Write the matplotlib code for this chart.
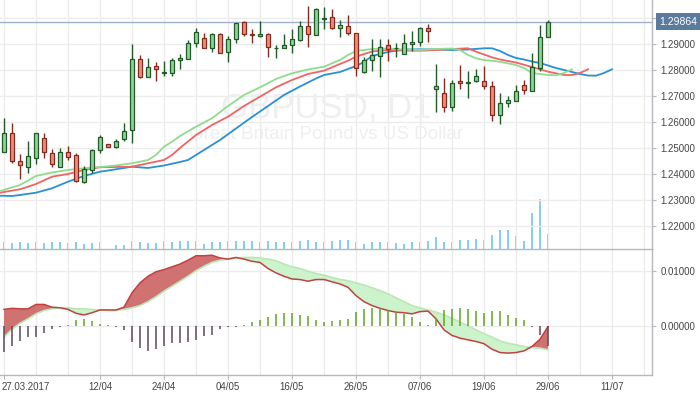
import matplotlib
matplotlib.use("Agg")
import matplotlib.pyplot as plt
import matplotlib.transforms as mtransforms
import numpy as np

plt.rcParams['font.family'] = ['Liberation Sans', 'DejaVu Sans']

# ---------------- data ----------------
opens = [1.2486, 1.2557, 1.2449, 1.2428, 1.2460, 1.2538, 1.2480, 1.2426, 1.2483, 1.2472,
         1.2370, 1.2414, 1.2491, 1.2514, 1.2505, 1.2533, 1.2569, 1.2841, 1.2774, 1.2815,
         1.2787, 1.2790, 1.2837, 1.2843, 1.2903, 1.2922, 1.2883, 1.2937, 1.2868, 1.2919,
         1.2983, 1.2938, 1.2931, 1.2937, 1.2883, 1.2883, 1.2896, 1.2914, 1.2969, 1.2933,
         1.2995, 1.3003, 1.2960, 1.2969, 1.2942, 1.2791, 1.2837, 1.2855, 1.2895, 1.2884,
         1.2860, 1.2899, 1.2907, 1.2960, 1.2726, 1.2710, 1.2659, 1.2758, 1.2749, 1.2757,
         1.2758, 1.2740, 1.2626, 1.2672, 1.2680, 1.2741, 1.2718, 1.2809, 1.2926]
highs = [1.2617, 1.2597, 1.2477, 1.2527, 1.2558, 1.2557, 1.2496, 1.2500, 1.2508, 1.2480,
         1.2431, 1.2496, 1.2549, 1.2515, 1.2533, 1.2595, 1.2900, 1.2858, 1.2846, 1.2831,
         1.2835, 1.2846, 1.2862, 1.2915, 1.2963, 1.2941, 1.2941, 1.2941, 1.2931, 1.2982,
         1.2988, 1.2957, 1.2988, 1.2941, 1.2896, 1.2937, 1.2957, 1.2988, 1.3046, 1.3037,
         1.3043, 1.3033, 1.2992, 1.3012, 1.2943, 1.2849, 1.2918, 1.2919, 1.2918, 1.2905,
         1.2938, 1.2950, 1.2964, 1.2977, 1.2823, 1.2768, 1.2762, 1.2818, 1.2796, 1.2804,
         1.2814, 1.2758, 1.2710, 1.2699, 1.2742, 1.2762, 1.2864, 1.2972, 1.2992]
lows = [1.2484, 1.2443, 1.2380, 1.2405, 1.2437, 1.2462, 1.2426, 1.2425, 1.2455, 1.2371,
        1.2367, 1.2405, 1.2482, 1.2502, 1.2501, 1.2528, 1.2518, 1.2770, 1.2773, 1.2759,
        1.2777, 1.2778, 1.2805, 1.2841, 1.2890, 1.2883, 1.2868, 1.2864, 1.2832, 1.2903,
        1.2932, 1.2905, 1.2928, 1.2851, 1.2847, 1.2883, 1.2867, 1.2912, 1.2890, 1.2933,
        1.2958, 1.2958, 1.2928, 1.2935, 1.2777, 1.2790, 1.2795, 1.2772, 1.2833, 1.2849,
        1.2860, 1.2874, 1.2893, 1.2909, 1.2640, 1.2640, 1.2643, 1.2726, 1.2693, 1.2753,
        1.2726, 1.2605, 1.2591, 1.2657, 1.2680, 1.2709, 1.2718, 1.2796, 1.2926]
closes = [1.2557, 1.2451, 1.2436, 1.2468, 1.2556, 1.2483, 1.2440, 1.2483, 1.2467, 1.2372,
          1.2418, 1.2491, 1.2543, 1.2503, 1.2526, 1.2564, 1.2841, 1.2774, 1.2810, 1.2805,
          1.2792, 1.2837, 1.2846, 1.2903, 1.2945, 1.2883, 1.2937, 1.2864, 1.2918, 1.2980,
          1.2937, 1.2933, 1.2938, 1.2887, 1.2884, 1.2895, 1.2918, 1.2968, 1.2940, 1.3035,
          1.2999, 1.2960, 1.2973, 1.2941, 1.2807, 1.2837, 1.2857, 1.2887, 1.2880, 1.2886,
          1.2903, 1.2908, 1.2960, 1.2949, 1.2740, 1.2659, 1.2749, 1.2751, 1.2753, 1.2776,
          1.2737, 1.2627, 1.2672, 1.2685, 1.2719, 1.2722, 1.2812, 1.2927, 1.29864]
volumes = [146, 126, 146, 126, 146, 126, 146, 146, 126, 146,
           106, 126, 146, 0, 86, 86, 166, 146, 126, 126,
           166, 146, 166, 166, 166, 106, 146, 146, 166, 166,
           166, 166, 146, 166, 146, 146, 146, 166, 186, 146,
           146, 166, 174, 174, 146, 106, 134, 146, 146, 120,
           106, 134, 134, 160, 246, 146, 146, 174, 174, 200,
           174, 286, 386, 374, 254, 154, 714, 1000, 306]

# Alligator lines (bar index, price)
jaw_idx = [-0.5, 1, 2, 4, 6, 8, 10, 12, 14, 16, 18, 20, 22, 23, 24, 27, 31, 33, 35, 37, 39, 40,
           42, 43, 44, 45, 46, 47, 48, 50, 52, 54, 56, 58, 60, 61, 62, 63, 64, 65, 66, 67,
           68, 69, 70, 72, 73, 74, 75, 76]
jaw_val = [1.23165, 1.23154, 1.23192, 1.23281, 1.23450, 1.23704, 1.23923, 1.24088, 1.24181,
           1.24281, 1.24231, 1.24327, 1.24462, 1.24538, 1.24731, 1.25308, 1.26192, 1.26615,
           1.27038, 1.27365, 1.27673, 1.27808, 1.27923, 1.28038, 1.28154, 1.28308, 1.28538,
           1.28615, 1.28692, 1.28788, 1.28796, 1.28788, 1.28769, 1.28788, 1.28835, 1.28835,
           1.28731, 1.28577, 1.28462, 1.28404, 1.28327, 1.28269, 1.28173, 1.28077, 1.28000,
           1.27846, 1.27788, 1.27781, 1.27885, 1.28027]
teeth_idx = [-0.5, 2, 4, 6, 8, 10, 12, 14, 16, 18, 20, 21, 22, 24, 26, 28, 30, 32, 34, 36, 38,
             40, 42, 43, 44, 46, 48, 50, 52, 54, 56, 58, 59, 60, 61, 62, 63, 64, 66, 68, 70,
             71, 72, 73]
teeth_val = [1.23281, 1.23412, 1.23615, 1.23896, 1.24000, 1.24154, 1.24258, 1.24269, 1.24281,
             1.24412, 1.24538, 1.24731, 1.25000, 1.25500, 1.25885, 1.26204, 1.26615, 1.26973,
             1.27335, 1.27615, 1.27846, 1.27973, 1.28231, 1.28358, 1.28512, 1.28712, 1.28769,
             1.28750, 1.28742, 1.28769, 1.28808, 1.28835, 1.28704, 1.28596, 1.28488, 1.28404,
             1.28346, 1.28288, 1.28115, 1.27935, 1.27808, 1.27808, 1.27885, 1.28027]
lips_idx = [-0.5, 2, 4, 6, 8, 10, 12, 14, 16, 18, 19, 20, 21, 22, 24, 26, 28, 30, 32, 34, 36,
            38, 40, 42, 43, 44, 46, 48, 50, 52, 54, 56, 57, 58, 59, 60, 62, 64, 65, 66, 68,
            69, 70, 71]
lips_val = [1.23346, 1.23577, 1.23923, 1.24058, 1.24154, 1.24219, 1.24269, 1.24327, 1.24412,
            1.24538, 1.24731, 1.25050, 1.25242, 1.25462, 1.25819, 1.26142, 1.26615, 1.27038,
            1.27335, 1.27654, 1.27873, 1.28019, 1.28127, 1.28385, 1.28577, 1.28731, 1.28808,
            1.28827, 1.28788, 1.28769, 1.28808, 1.28827, 1.28769, 1.28577, 1.28450, 1.28385,
            1.28319, 1.28192, 1.28077, 1.27885, 1.27808, 1.27796, 1.27885, 1.28027]

# MACD panel
macd_line = [0.0030, 0.0032, 0.0031, 0.0031, 0.0039, 0.0039, 0.0034, 0.0033, 0.0030, 0.0023,
             0.0020, 0.0024, 0.0029, 0.0029, 0.0029, 0.0034, 0.0060, 0.0078, 0.0090, 0.0098,
             0.0102, 0.0107, 0.0112, 0.0119, 0.0127, 0.0127, 0.0128, 0.0123, 0.0121, 0.0124,
             0.0121, 0.0117, 0.0115, 0.0104, 0.0096, 0.0090, 0.0085, 0.0084, 0.0081, 0.0084,
             0.0084, 0.0080, 0.0076, 0.0070, 0.0055, 0.0044, 0.0037, 0.0032, 0.0028, 0.0025,
             0.0024, 0.0022, 0.0026, 0.0027, 0.0013, -0.0007, -0.0017, -0.0022, -0.0025, -0.0028,
             -0.0032, -0.0042, -0.0048, -0.0049, -0.0048, -0.0045, -0.0037, -0.0024, -0.0001]
signal_line = [-0.0020, -0.0006, 0.0005, 0.0013, 0.0022, 0.0028, 0.0031, 0.0033, 0.0033, 0.0031,
               0.0031, 0.0030, 0.0029, 0.0028, 0.0028, 0.0030, 0.0033, 0.0037, 0.0044, 0.0053,
               0.0063, 0.0072, 0.0081, 0.0090, 0.0100, 0.0108, 0.0115, 0.0119, 0.0121, 0.0123,
               0.0124, 0.0124, 0.0123, 0.0121, 0.0118, 0.0112, 0.0107, 0.0104, 0.0099, 0.0095,
               0.0092, 0.0088, 0.0084, 0.0082, 0.0078, 0.0074, 0.0069, 0.0064, 0.0058, 0.0051,
               0.0044, 0.0037, 0.0033, 0.0029, 0.0025, 0.0020, 0.0014, 0.0007, 0.0000, -0.0007,
               -0.0014, -0.0020, -0.0027, -0.0031, -0.0034, -0.0037, -0.0039, -0.0040, -0.0043]
histogram = [-0.0047, -0.0037, -0.0027, -0.0019, -0.0019, -0.0012, -0.0005, -0.0002, 0.0002, 0.0011,
             0.0013, 0.0009, 0.0004, 0.0001, -0.0002, -0.0007, -0.0029, -0.0039, -0.0045, -0.0042,
             -0.0037, -0.0031, -0.0031, -0.0029, -0.0025, -0.0018, -0.0016, -0.0006, -0.0002, -0.0002,
             0.0002, 0.0007, 0.0010, 0.0016, 0.0021, 0.0024, 0.0024, 0.0020, 0.0018, 0.0011,
             0.0008, 0.0009, 0.0010, 0.0013, 0.0025, 0.0031, 0.0033, 0.0032, 0.0029, 0.0025,
             0.0021, 0.0016, 0.0008, 0.0002, 0.0014, 0.0029, 0.0031, 0.0033, 0.0030, 0.0027,
             0.0024, 0.0028, 0.0027, 0.0020, 0.0014, 0.0010, -0.0001, -0.0017, -0.0036]

date_ticks = [0, 12, 20, 28, 36, 44, 52, 60, 68, 76]
date_labels = ['27.03.2017', '12/04', '24/04', '04/05', '16/05', '26/05',
               '07/06', '19/06', '29/06', '11/07']
price_ticks = [1.22, 1.23, 1.24, 1.25, 1.26, 1.27, 1.28, 1.29, 1.30]
macd_ticks = [0.0, 0.01]
last_price = 1.29864
symbol = 'GBPUSD, D1'
description = 'Great Britain Pound vs US Dollar'

# ---------------- style ----------------
W, H = 700, 394
fig = plt.figure(figsize=(W / 100, H / 100), dpi=100)
fig.patch.set_facecolor('white')

right = 652 / W
main_rect = [0, 1 - 249 / H, right, 249 / H]
# volume axis drawn underneath the price axis
axv = fig.add_axes(main_rect, zorder=0)
ax = fig.add_axes(main_rect, zorder=1)
ax.patch.set_visible(False)
axm = fig.add_axes([0, 1 - 375 / H, right, 126 / H])

grid_c = '#ececec'
spine_c = '#b4b8bc'
lab_c = '#444444'
x = np.arange(len(closes))
xlim = (-0.5, 81)
vgrid = np.arange(0, 81, 4)

# volume
axv.set_ylim(0, max(volumes) * 249 / 50)
axv.set_xlim(*xlim)
axv.axis('off')
axv.vlines(x, 0, volumes, color='#78c9f2', lw=1.3, zorder=1)

for a in (ax, axm):
    a.set_xlim(*xlim)
    for s in ('left', 'top'):
        a.spines[s].set_visible(False)
    for s in ('right', 'bottom'):
        a.spines[s].set_color(spine_c)
        a.spines[s].set_linewidth(1.0)
    for v in vgrid:
        a.axvline(v, color=grid_c, lw=1.0, zorder=0)
    a.yaxis.tick_right()
    a.tick_params(axis='y', colors=spine_c, length=3, width=0.8, labelsize=7,
                  labelcolor=lab_c, pad=3)

# main panel
ax.set_ylim(1.21115, 1.30692)
ax.set_yticks(price_ticks)
ax.set_yticklabels([f'{t:.5f}' if t < 1.295 else '' for t in price_ticks])
for t in price_ticks:
    ax.axhline(t, color=grid_c, lw=1.0, zorder=0)
ax.set_xticks([])

# watermark
ax.text(0.5, (249 - 118) / 249, symbol, transform=ax.transAxes, ha='center',
        va='baseline', fontsize=25, color='#efefef', zorder=0.5)
ax.text(0.5, (249 - 139) / 249, description, transform=ax.transAxes, ha='center',
        va='baseline', fontsize=13.5, color='#efefef', zorder=0.5)

# alligator
ax.plot(jaw_idx, jaw_val, color='#2a8fd6', lw=1.3, zorder=2)
ax.plot(teeth_idx, teeth_val, color='#f06464', lw=1.3, zorder=2)
ax.plot(lips_idx, lips_val, color='#8fdc8f', lw=1.3, zorder=2)

# candles
o = np.array(opens); c = np.array(closes); h = np.array(highs); l = np.array(lows)
up = c >= o
bull_fill, bull_edge = '#8fd29a', '#1f5a27'
bear_fill, bear_edge = '#f28c7c', '#852a1c'
ax.vlines(x[up], l[up], h[up], color=bull_edge, lw=1.0, zorder=3)
ax.vlines(x[~up], l[~up], h[~up], color=bear_edge, lw=1.0, zorder=3)
ax.bar(x[up], (c - o)[up], bottom=o[up], width=0.62, color=bull_fill,
       edgecolor=bull_edge, linewidth=0.9, zorder=4)
ax.bar(x[~up], (o - c)[~up], bottom=c[~up], width=0.62, color=bear_fill,
       edgecolor=bear_edge, linewidth=0.9, zorder=4)

# last price line + tag
ax.axhline(last_price, color='#9fb2cc', lw=1.0, zorder=2.5)
trans = mtransforms.blended_transform_factory(ax.transAxes, ax.transData)
ax.annotate(f'{last_price:.5f}', xy=(1.0, last_price), xycoords=trans,
            xytext=(5, 0), textcoords='offset points', ha='left', va='center',
            fontsize=7.5, color='white', annotation_clip=False, zorder=10,
            bbox=dict(boxstyle='square,pad=0.3', fc='#5a7a9e', ec='none'))

# MACD panel
axm.set_ylim(-0.008861, 0.013924)
axm.set_yticks(macd_ticks)
axm.set_yticklabels([f'{t:.5f}' for t in macd_ticks])
for t in macd_ticks:
    axm.axhline(t, color=grid_c, lw=1.0, zorder=0)
mc = np.array(macd_line); sg = np.array(signal_line); hs = np.array(histogram)
axm.fill_between(x, mc, sg, where=mc >= sg, interpolate=True, color='#d07272',
                 lw=0, zorder=1)
axm.fill_between(x, mc, sg, where=mc < sg, interpolate=True, color='#cdf3cd',
                 lw=0, zorder=1)
axm.plot(x, sg, color='#b9e8b4', lw=1.2, zorder=2)
axm.plot(x, mc, color='#c2413f', lw=1.1, zorder=2)
pos = hs >= 0
axm.vlines(x[pos], 0, hs[pos], color='#5ea521', lw=1.1, zorder=3)
axm.vlines(x[~pos], 0, hs[~pos], color='#5b4a5a', lw=1.1, zorder=3)

axm.set_xticks(date_ticks)
axm.set_xticklabels(date_labels)
axm.tick_params(axis='x', colors=spine_c, length=3, width=0.8, labelsize=7,
                labelcolor=lab_c, pad=2)
first = axm.get_xticklabels()[0]
first.set_ha('left')
first.set_transform(first.get_transform() + mtransforms.ScaledTranslation(-2 / 100, 0, fig.dpi_scale_trans))

fig.savefig('out.png', dpi=100, facecolor='white')
